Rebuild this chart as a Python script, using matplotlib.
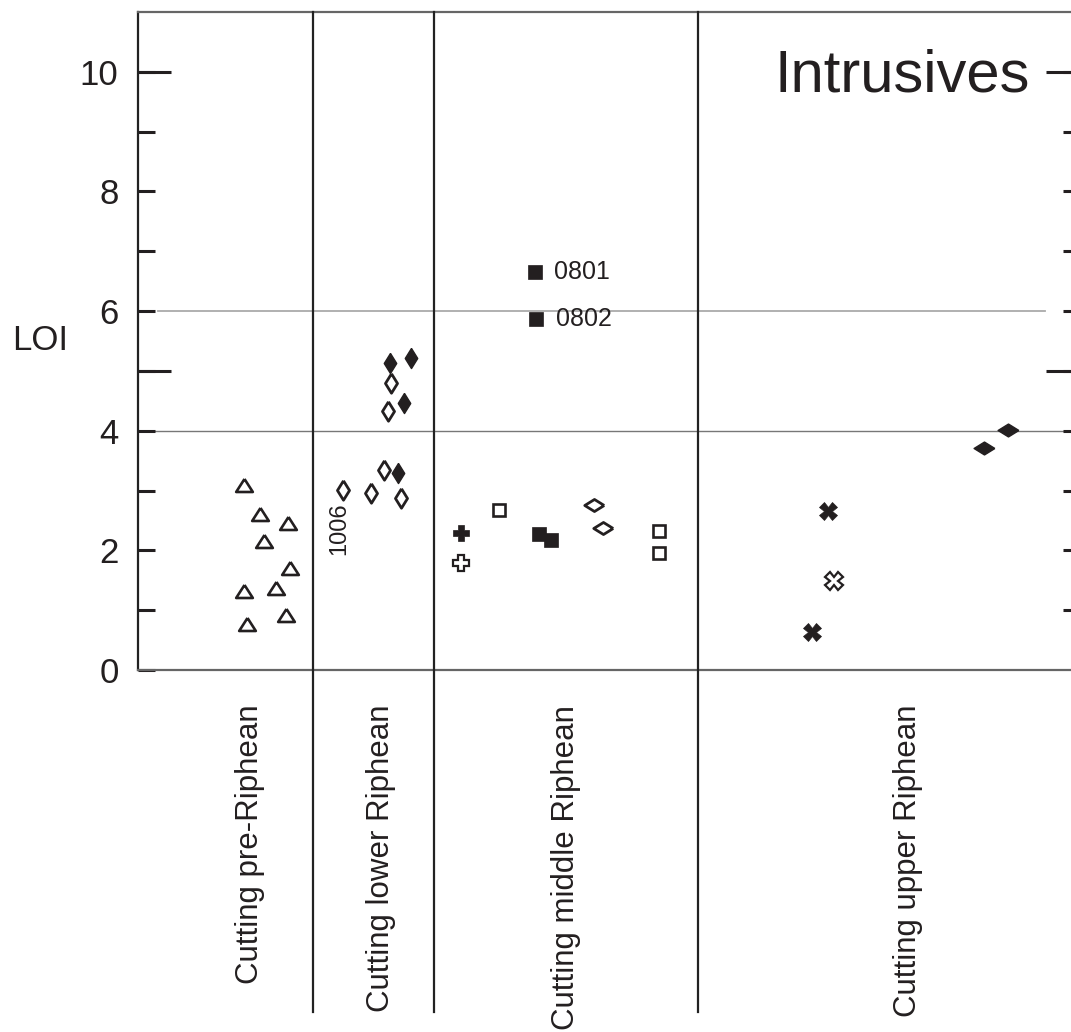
#%% LOI Intrusives, nach Gruppen
import numpy as np
import matplotlib.pyplot as plt
from matplotlib.markers import MarkerStyle
from matplotlib import font_manager

names = {f.name for f in font_manager.fontManager.ttflist}
plt.rcParams['font.family'] = ['Liberation Sans', 'DejaVu Sans']
big_font = 'Liberation Sans Narrow' if 'Liberation Sans Narrow' in names else 'Liberation Sans'

## INPUT
categories = ['Cutting pre-Riphean', 'Cutting lower Riphean',
              'Cutting middle Riphean', 'Cutting upper Riphean']

# pre-Riphean, Dreiecke offen
tri_x = [11.4, 13.1, 13.5, 16.1, 16.3, 11.4, 14.8, 15.9, 11.7]
tri_y = [3.09, 2.61, 2.16, 2.46, 1.71, 1.32, 1.37, 0.92, 0.77]

# lower Riphean, Rauten
ldia_open_x = [27.1, 26.8, 26.4, 25.0, 28.2, 22.0]
ldia_open_y = [4.80, 4.33, 3.34, 2.96, 2.88, 3.01]
ldia_fill_x = [27.0, 29.3, 28.5, 27.9]
ldia_fill_y = [5.13, 5.21, 4.47, 3.29]

# middle Riphean
plus_fill_x, plus_fill_y = [34.6], [2.29]
plus_open_x, plus_open_y = [34.6], [1.79]
sq_open_x = [38.7, 55.8, 55.8]
sq_open_y = [2.68, 2.32, 1.96]
sq_fill_x = [43.0, 44.3, 42.5, 42.7]
sq_fill_y = [2.27, 2.17, 6.66, 5.87]
mdia_open_x = [48.9, 49.8]
mdia_open_y = [2.76, 2.37]

# upper Riphean
x_fill_x = [74.0, 72.2]
x_fill_y = [2.66, 0.64]
x_open_x, x_open_y = [74.6], [1.49]
udia_fill_x = [90.7, 93.3]
udia_fill_y = [3.71, 4.01]

# beschriftete Proben
sample_names = ['0801', '0802', '1006']
sample_x = [42.5, 42.7, 22.0]
sample_y = [6.66, 5.87, 3.01]

bounds = [18.76, 31.73, 60.02]
cat_pos = [12.0, 26.0, 45.9, 82.5]

## PLOT
ink = '#231f20'
tall_dia = MarkerStyle([(0, 1), (0.62, 0), (0, -1), (-0.62, 0), (0, 1)], joinstyle='miter')
wide_dia = MarkerStyle([(1, 0), (0, 0.62), (-1, 0), (0, -0.62), (1, 0)], joinstyle='miter')
tri = MarkerStyle([(0, 0.78), (1, -0.78), (-1, -0.78), (0, 0.78)], joinstyle='miter')

fig = plt.figure(figsize=(10.71, 10.32), dpi=100)
ax = fig.add_axes([138/1071, 362/1032, 933/1071, 658/1032])
ax.set_xlim(0, 100)
ax.set_ylim(0, 11)

opn = dict(linestyle='none', markerfacecolor='white', markeredgecolor=ink, zorder=4)
fil = dict(linestyle='none', markerfacecolor=ink, markeredgecolor=ink, zorder=4)

ax.plot(tri_x, tri_y, marker=tri, markersize=12, markeredgewidth=1.9, **opn)
ax.plot(ldia_open_x, ldia_open_y, marker=tall_dia, markersize=14, markeredgewidth=2.0, **opn)
ax.plot(ldia_fill_x, ldia_fill_y, marker=tall_dia, markersize=14.5, markeredgewidth=1.0, **fil)
ax.plot(plus_fill_x, plus_fill_y, marker='P', markersize=11.5, markeredgewidth=0.5, **fil)
ax.plot(plus_open_x, plus_open_y, marker='P', markersize=11.5, markeredgewidth=1.6, **opn)
ax.plot(sq_open_x, sq_open_y, marker='s', markersize=8.5, markeredgewidth=1.9, **opn)
ax.plot(sq_fill_x, sq_fill_y, marker='s', markersize=10.5, markeredgewidth=0.5, **fil)
ax.plot(mdia_open_x, mdia_open_y, marker=wide_dia, markersize=14, markeredgewidth=2.0, **opn)
ax.plot(x_fill_x, x_fill_y, marker='X', markersize=12.5, markeredgewidth=0.5, **fil)
ax.plot(x_open_x, x_open_y, marker='X', markersize=12.5, markeredgewidth=1.6, **opn)
ax.plot(udia_fill_x, udia_fill_y, marker=wide_dia, markersize=15, markeredgewidth=1.0, **fil)

for name, sx, sy in zip(sample_names, sample_x, sample_y):
    if name == '1006':
        ax.annotate(name, (sx, sy), xytext=(-3, -9), textcoords='offset points',
                    rotation=90, ha='center', va='top', fontsize=17, color=ink)
    else:
        ax.annotate(name, (sx, sy), xytext=(14, 0), textcoords='offset points',
                    ha='left', va='center', fontsize=18, color=ink)

# Hilfslinien
ax.axhline(4, color='#777777', lw=1.0, zorder=1)
ax.axhline(6, xmin=0.021, xmax=0.972, color='#aaaaaa', lw=1.3, zorder=1)
for b in bounds:
    ax.axvline(b, ymin=-0.52, ymax=1, color='#222222', lw=1.6, clip_on=False, zorder=3)

# Achsen
ax.spines['right'].set_visible(False)
ax.spines['top'].set_color('#666666')
ax.spines['bottom'].set_color('#666666')
ax.spines['left'].set_color('#222222')
for s in ['top', 'bottom', 'left']:
    ax.spines[s].set_linewidth(1.6)

yt = np.arange(0, 11)
ax.yaxis.remove_overlapping_locs = False
ax.set_yticks(yt, [str(v) if v % 2 == 0 else '' for v in yt])
ax.set_yticks([5, 10], minor=True)
ax.tick_params(axis='y', which='major', direction='in', length=12, width=2.2,
               color=ink, labelsize=25, pad=14, labelcolor=ink)
ax.tick_params(axis='y', which='minor', direction='in', length=24, width=2.2, color=ink)
ax.yaxis.get_major_ticks()[0].tick1line.set_visible(False)

ax.set_xticks(cat_pos, categories, rotation=90, va='top', ha='center')
ax.tick_params(axis='x', length=0, labelsize=22.5, pad=25, labelcolor=ink)

ax.set_ylabel('LOI', rotation=0, fontsize=25, color=ink, ha='center', va='center')
ax.yaxis.set_label_coords(-0.105, 0.5)

# rechte Seite: nur Ticks
ax2 = ax.twinx()
ax2.set_ylim(0, 11)
for s in ax2.spines.values():
    s.set_visible(False)
ax2.yaxis.remove_overlapping_locs = False
ax2.set_yticks(yt[1:], [])
ax2.set_yticks([5, 10], minor=True)
ax2.tick_params(axis='y', which='major', direction='in', length=6, width=2.2, color=ink)
ax2.tick_params(axis='y', which='minor', direction='in', length=18, width=2.2, color=ink)

ax.text(0.956, 9.67 / 11, 'Intrusives', transform=ax.transAxes, ha='right',
        va='baseline', fontsize=43, family=[big_font, 'DejaVu Sans'], color=ink)

plt.savefig('out.png', dpi=100)
